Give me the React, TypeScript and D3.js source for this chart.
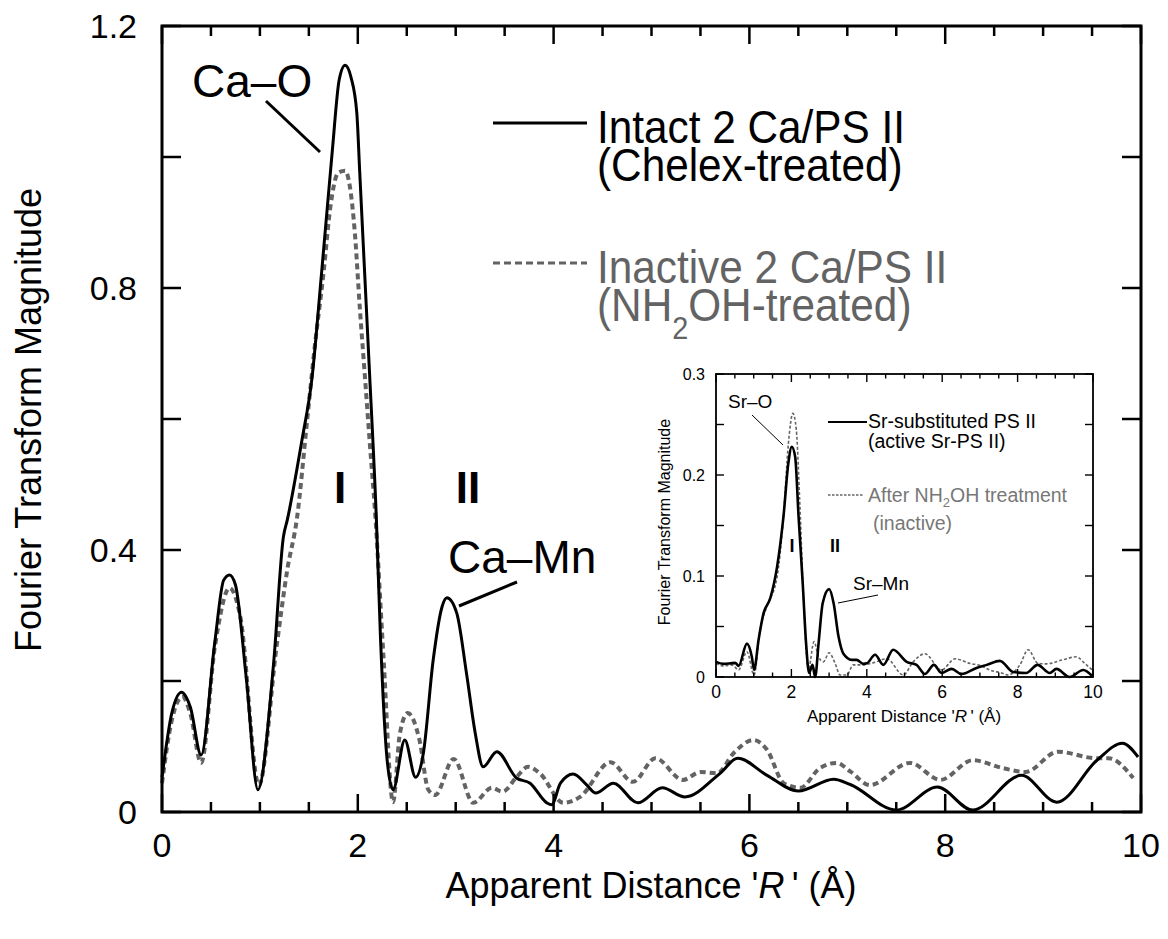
import React from 'react';
import * as d3 from 'd3';

// ---------- main panel data (Ca samples) ----------
const intactR = [0.0, 0.1, 0.2, 0.29, 0.4, 0.54, 0.63, 0.69, 0.75, 0.86, 0.98, 1.14, 1.24, 1.28, 1.43, 1.53, 1.63, 1.74, 1.81, 1.87, 1.93, 1.99, 2.02, 2.07, 2.12, 2.19, 2.23, 2.3, 2.36, 2.48, 2.59, 2.67, 2.77, 2.86, 2.91, 3.01, 3.11, 3.2, 3.28, 3.42, 3.62, 3.76, 3.93, 3.98, 4.07, 4.2, 4.34, 4.43, 4.61, 4.86, 5.11, 5.34, 5.7, 5.88, 6.18, 6.5, 6.86, 7.03, 7.5, 7.92, 8.28, 8.78, 9.14, 9.55, 9.81, 9.97];
const intactFT = [0.053, 0.151, 0.183, 0.16, 0.087, 0.26, 0.354, 0.362, 0.347, 0.206, 0.034, 0.227, 0.42, 0.446, 0.568, 0.66, 0.823, 1.01, 1.118, 1.14, 1.122, 1.067, 0.976, 0.823, 0.67, 0.446, 0.273, 0.079, 0.034, 0.11, 0.053, 0.09, 0.232, 0.313, 0.327, 0.304, 0.212, 0.12, 0.069, 0.092, 0.052, 0.044, 0.014, 0.011, 0.044, 0.058, 0.041, 0.029, 0.044, 0.014, 0.037, 0.023, 0.059, 0.082, 0.056, 0.032, 0.05, 0.042, 0.003, 0.038, 0.003, 0.056, 0.015, 0.079, 0.105, 0.084];

const inactiveR = [0.0, 0.1, 0.21, 0.29, 0.4, 0.54, 0.69, 0.8, 0.99, 1.17, 1.28, 1.38, 1.48, 1.56, 1.65, 1.72, 1.8, 1.87, 1.92, 1.97, 2.02, 2.07, 2.12, 2.18, 2.26, 2.36, 2.43, 2.51, 2.63, 2.72, 2.79, 2.98, 3.18, 3.37, 3.48, 3.62, 3.74, 3.86, 4.1, 4.27, 4.58, 4.81, 5.04, 5.32, 5.5, 5.67, 5.84, 6.04, 6.18, 6.35, 6.52, 6.72, 6.89, 7.03, 7.23, 7.64, 7.95, 8.28, 8.59, 8.82, 9.15, 9.55, 9.67, 9.92];
const inactiveFT = [0.044, 0.14, 0.176, 0.15, 0.075, 0.252, 0.342, 0.298, 0.041, 0.252, 0.37, 0.45, 0.594, 0.71, 0.823, 0.924, 0.976, 0.979, 0.954, 0.884, 0.771, 0.67, 0.568, 0.45, 0.243, 0.015, 0.12, 0.151, 0.11, 0.034, 0.026, 0.081, 0.014, 0.037, 0.031, 0.053, 0.069, 0.059, 0.014, 0.023, 0.076, 0.046, 0.082, 0.049, 0.061, 0.059, 0.09, 0.11, 0.095, 0.044, 0.037, 0.067, 0.075, 0.062, 0.041, 0.075, 0.049, 0.079, 0.067, 0.061, 0.092, 0.082, 0.082, 0.052];

// ---------- inset data (Sr samples) ----------
const srActiveR = [0.0, 0.2, 0.38, 0.51, 0.6, 0.82, 0.95, 1.01, 1.13, 1.26, 1.44, 1.62, 1.79, 1.92, 2.01, 2.1, 2.19, 2.3, 2.39, 2.47, 2.56, 2.63, 2.72, 2.83, 3.0, 3.12, 3.25, 3.38, 3.6, 3.73, 3.91, 4.0, 4.22, 4.44, 4.7, 5.06, 5.32, 5.54, 5.78, 5.98, 6.25, 6.51, 6.91, 7.18, 7.53, 7.88, 8.23, 8.53, 8.85, 9.03, 9.38, 9.74, 9.98];
const srActiveFT = [0.015, 0.013, 0.0135, 0.014, 0.011, 0.033, 0.02, 0.007, 0.037, 0.063, 0.078, 0.109, 0.159, 0.212, 0.228, 0.218, 0.159, 0.093, 0.033, 0.004, 0.012, 0.0, 0.033, 0.073, 0.087, 0.073, 0.04, 0.023, 0.017, 0.017, 0.013, 0.0135, 0.022, 0.012, 0.027, 0.015, 0.012, 0.003, 0.012, 0.004, 0.008, 0.003, 0.009, 0.012, 0.016, 0.005, 0.004, 0.012, 0.004, 0.008, 0.0, 0.007, 0.001];

const srInactiveR = [0.0, 0.2, 0.42, 0.6, 0.82, 1.01, 1.17, 1.35, 1.62, 1.79, 1.92, 2.04, 2.13, 2.22, 2.32, 2.45, 2.6, 2.72, 2.85, 3.0, 3.16, 3.29, 3.47, 3.64, 3.87, 4.17, 4.53, 4.97, 5.23, 5.54, 5.98, 6.34, 6.73, 7.04, 7.26, 7.57, 7.75, 8.06, 8.28, 8.54, 8.76, 9.2, 9.56, 9.78, 9.98];
const srInactiveFT = [0.0135, 0.011, 0.012, 0.007, 0.025, 0.002, 0.047, 0.07, 0.099, 0.159, 0.231, 0.261, 0.245, 0.175, 0.08, 0.007, 0.035, 0.02, 0.015, 0.024, 0.0135, 0.002, 0.002, 0.012, 0.012, 0.014, 0.018, 0.002, 0.015, 0.023, 0.007, 0.018, 0.0135, 0.011, 0.007, 0.004, 0.002, 0.012, 0.027, 0.0135, 0.013, 0.017, 0.02, 0.0135, 0.007];

// ---------- ticks ----------
const mainXLabels = [0, 2, 4, 6, 8, 10];
const mainYLabels = [0, 0.4, 0.8, 1.2];
const insetXLabels = [0, 2, 4, 6, 8, 10];
const insetYLabels = [0, 0.1, 0.2, 0.3];

const FONT = '"Liberation Sans", Arial, Helvetica, sans-serif';
const GRAY = '#636363';

function zip(xs: number[], ys: number[]): [number, number][] {
  return xs.map((x, i) => [x, ys[i]]);
}

function range(a: number, b: number, s: number) {
  const out: number[] = [];
  for (let v = a; v <= b + 1e-9; v += s) out.push(+v.toFixed(4));
  return out;
}

export default function App() {
  // main scales
  const x = d3.scaleLinear().domain([0, 10]).range([162, 1141]);
  const y = d3.scaleLinear().domain([0, 1.2]).range([812, 26]);
  // inset scales
  const xi = d3.scaleLinear().domain([0, 10]).range([716, 1093]);
  const yi = d3.scaleLinear().domain([0, 0.3]).range([677, 374]);

  const line = d3.line<[number, number]>().x(d => x(d[0])).y(d => y(d[1])).curve(d3.curveMonotoneX);
  const lineI = d3.line<[number, number]>().x(d => xi(d[0])).y(d => yi(d[1])).curve(d3.curveMonotoneX);

  const [x0, x1] = x.range();
  const [y0, y1] = y.range();
  const [xi0, xi1] = xi.range();
  const [yi0, yi1] = yi.range();

  const xMinor = range(0, 10, 0.5);
  const yMinor = range(0, 1.2, 0.2);
  const xiMinor = range(0, 10, 0.5);
  const yiMinor = range(0, 0.3, 0.05);

  return (
    <svg width={1168} height={939} style={{ position: 'absolute', left: 0, top: 0, background: '#fff' }} fontFamily={FONT}>
      <rect x={0} y={0} width={1168} height={939} fill="#fff" />

      {/* ===== main curves ===== */}
      <path d={line(zip(inactiveR, inactiveFT)) || ''} fill="none" stroke={GRAY} strokeWidth={4} strokeDasharray="6 4" />
      <path d={line(zip(intactR, intactFT)) || ''} fill="none" stroke="#000" strokeWidth={3} strokeLinejoin="round" />

      {/* ===== main frame & ticks ===== */}
      <rect x={x0} y={y1} width={x1 - x0} height={y0 - y1} fill="none" stroke="#000" strokeWidth={3} />
      {xMinor.map(v => {
        const major = Math.abs(v % 2) < 1e-6;
        const L = major ? 18 : 10;
        return (
          <g key={'mx' + v}>
            <line x1={x(v)} x2={x(v)} y1={y0} y2={y0 - L} stroke="#000" strokeWidth={2.5} />
            <line x1={x(v)} x2={x(v)} y1={y1} y2={y1 + L} stroke="#000" strokeWidth={2.5} />
          </g>
        );
      })}
      {yMinor.map(v => (
        <g key={'my' + v}>
          <line x1={x0} x2={x0 + 19} y1={y(v)} y2={y(v)} stroke="#000" strokeWidth={2.5} />
          <line x1={x1} x2={x1 - 19} y1={y(v)} y2={y(v)} stroke="#000" strokeWidth={2.5} />
        </g>
      ))}
      {mainXLabels.map(v => (
        <text key={'mxl' + v} x={x(v)} y={857} fontSize={34} textAnchor="middle">{v}</text>
      ))}
      {mainYLabels.map(v => (
        <text key={'myl' + v} x={137} y={y(v)} dy="0.36em" fontSize={34} textAnchor="end">{v === 0 ? '0' : v.toFixed(1)}</text>
      ))}
      <text x={651} y={898} fontSize={36} textAnchor="middle">
        Apparent Distance '<tspan fontStyle="italic">R</tspan>{'\u2009'}' (Å)
      </text>
      <text transform="translate(41,420) rotate(-90)" fontSize={36} textAnchor="middle">Fourier Transform Magnitude</text>

      {/* ===== main annotations ===== */}
      <text x={192} y={97} fontSize={46}>Ca–O</text>
      <line x1={266} y1={101} x2={320} y2={152} stroke="#000" strokeWidth={3} />
      <text x={340} y={503} fontSize={44} fontWeight="bold" textAnchor="middle">I</text>
      <text x={468} y={503} fontSize={44} fontWeight="bold" textAnchor="middle">II</text>
      <text x={448} y={573} fontSize={46}>Ca–Mn</text>
      <line x1={517} y1={582} x2={459} y2={606} stroke="#000" strokeWidth={3} />

      {/* ===== main legend ===== */}
      <line x1={493} x2={587} y1={123} y2={123} stroke="#000" strokeWidth={3} />
      <g transform="translate(597,143) scale(0.9,1)">
        <text x={0} y={0} fontSize={47}>
          <tspan x={0} y={0}>Intact 2 Ca/PS II</tspan>
          <tspan x={0} y={38}>(Chelex-treated)</tspan>
        </text>
      </g>
      <line x1={493} x2={587} y1={263} y2={263} stroke={GRAY} strokeWidth={3} strokeDasharray="7 4" />
      <g transform="translate(597,283) scale(0.9,1)" fill={GRAY}>
        <text x={0} y={0} fontSize={47}>
          <tspan x={0} y={0}>Inactive 2 Ca/PS II</tspan>
          <tspan x={0} y={38}>(NH</tspan><tspan fontSize={32} dy={18}>2</tspan><tspan dy={-18}>OH-treated)</tspan>
        </text>
      </g>

      {/* ===== inset ===== */}
      <path d={lineI(zip(srInactiveR, srInactiveFT)) || ''} fill="none" stroke="#666" strokeWidth={1.6} strokeDasharray="3 2" />
      <path d={lineI(zip(srActiveR, srActiveFT)) || ''} fill="none" stroke="#000" strokeWidth={2.6} strokeLinejoin="round" />
      <rect x={xi0} y={yi1} width={xi1 - xi0} height={yi0 - yi1} fill="none" stroke="#000" strokeWidth={1.8} />
      {xiMinor.map(v => {
        const major = Math.abs(v % 2) < 1e-6;
        const L = major ? 8 : 4.5;
        return (
          <g key={'ix' + v}>
            <line x1={xi(v)} x2={xi(v)} y1={yi0} y2={yi0 - L} stroke="#000" strokeWidth={1.4} />
            <line x1={xi(v)} x2={xi(v)} y1={yi1} y2={yi1 + L} stroke="#000" strokeWidth={1.4} />
          </g>
        );
      })}
      {yiMinor.map(v => (
        <g key={'iy' + v}>
          <line x1={xi0} x2={xi0 + 8} y1={yi(v)} y2={yi(v)} stroke="#000" strokeWidth={1.4} />
          <line x1={xi1} x2={xi1 - 8} y1={yi(v)} y2={yi(v)} stroke="#000" strokeWidth={1.4} />
        </g>
      ))}
      {insetXLabels.map(v => (
        <text key={'ixl' + v} x={xi(v)} y={698} fontSize={17.5} textAnchor="middle">{v}</text>
      ))}
      {insetYLabels.map(v => (
        <text key={'iyl' + v} x={705} y={yi(v)} dy="0.36em" fontSize={16} textAnchor="end">{v === 0 ? '0' : v.toFixed(1)}</text>
      ))}
      <text x={904} y={722} fontSize={17} textAnchor="middle">
        Apparent Distance '<tspan fontStyle="italic">R</tspan>{'\u2009'}' (Å)
      </text>
      <text transform="translate(670,522) rotate(-90)" fontSize={16} textAnchor="middle">Fourier Transform Magnitude</text>

      <text x={728} y={408} fontSize={19}>Sr–O</text>
      <line x1={752} y1={415} x2={783} y2={445} stroke="#000" strokeWidth={1} />
      <text x={792} y={552} fontSize={18} fontWeight="bold" textAnchor="middle">I</text>
      <text x={835} y={552} fontSize={18} fontWeight="bold" textAnchor="middle">II</text>
      <text x={853} y={590} fontSize={19}>Sr–Mn</text>
      <line x1={878} y1={595} x2={838} y2={603} stroke="#000" strokeWidth={1} />

      <line x1={828} x2={867} y1={422} y2={422} stroke="#000" strokeWidth={2.2} />
      <text x={868} y={428} fontSize={19.5}>
        <tspan x={868} y={428}>Sr-substituted PS II</tspan>
        <tspan x={868} y={448}>(active Sr-PS II)</tspan>
      </text>
      <line x1={828} x2={864} y1={495} y2={495} stroke="#666" strokeWidth={1.4} strokeDasharray="2.5 1.5" />
      <text x={868} y={502} fontSize={19.5} fill="#777">
        <tspan x={868} y={502}>After NH</tspan><tspan fontSize={13} dy={5}>2</tspan><tspan dy={-5}>OH treatment</tspan>
        <tspan x={873} y={530}>(inactive)</tspan>
      </text>
    </svg>
  );
}
